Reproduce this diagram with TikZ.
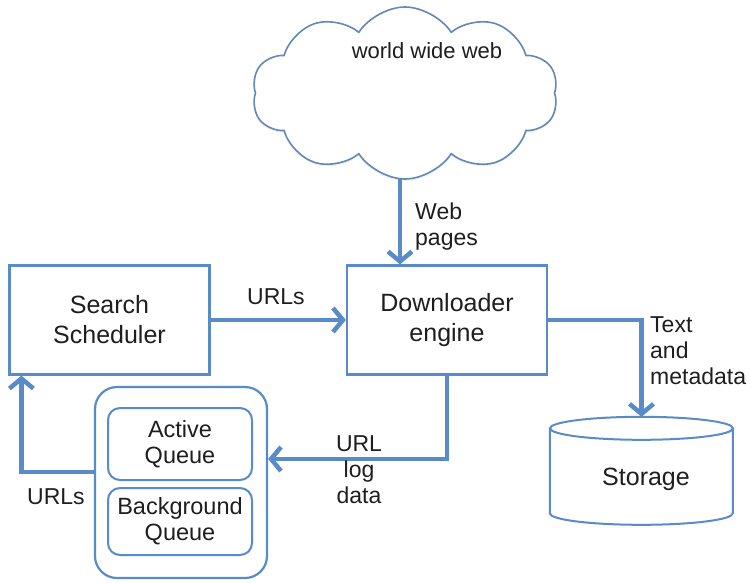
\documentclass[tikz,border=0pt]{standalone}
\usepackage{fontspec}
\setmainfont{Liberation Sans}
\usetikzlibrary{arrows.meta,shapes.symbols,positioning,shadows}
\definecolor{lblue}{RGB}{88,139,200}
\definecolor{txt}{RGB}{30,30,30}
\tikzset{
  box/.style={draw=lblue, line width=2.2pt, fill=white, minimum width=200pt, minimum height=109pt, align=center, text=txt, font=\fontsize{25}{30}\selectfont},
  qouter/.style={draw=lblue, line width=2.2pt, rounded corners=22pt, minimum width=172pt, minimum height=191pt},
  qinner/.style={draw=lblue, line width=2pt, rounded corners=12pt, minimum width=144pt, align=center, text=txt, font=\fontsize{23.5}{26}\selectfont},
  arr/.style={draw=lblue, line width=4.5pt, -{Straight Barb[length=10pt,width=24pt,line width=4.5pt]}},
  lbl/.style={text=txt, font=\fontsize{23}{26}\selectfont, inner sep=0pt},
}
\begin{document}
\begin{tikzpicture}[x=1pt,y=-1pt]
\useasboundingbox (0,0) rectangle (751,582);
% cloud position helper
\coordinate (cc) at (405,93);
% boxes
\node[box] (sched) at (109.5,320) {Search\\Scheduler};
\node[box] (dl) at (447,320) {Downloader\\engine};
% arrow from cloud (drawn under the cloud)
\draw[arr] (400,100) coordinate (cs) -- (cs |- dl.north);
% cloud
\node[cloud, cloud puffs=10, cloud puff arc=115, aspect=1.9, draw=lblue!75!gray, fill=white, line width=1.6pt, minimum width=306pt, minimum height=172pt, inner sep=0pt, drop shadow={opacity=0.12, shadow xshift=0pt, shadow yshift=-2pt}] (cloud) at (cc) {};
\node[lbl, font=\fontsize{22}{26}\selectfont] (www) at (427,51) {world wide web};
% queues
\node[qouter] (qc) at (181,482.5) {};
\node[qinner, minimum height=72pt] (aq) at (180,444) {Active\\Queue};
\node[qinner, minimum height=67pt] (bq) at (180,521.5) {Background\\Queue};
% storage (cylinder)
\node[minimum width=183pt, minimum height=96pt, inner sep=0pt] (st) at (641.5,465) {};
\draw[lblue, line width=2pt, fill=white]
  (st.north west) ++(0,11.5)
  -- ++(0,85)
  arc[start angle=180, end angle=360, x radius=91.5pt, y radius=11.5pt]
  -- ++(0,-85);
\draw[lblue, line width=2pt] ([yshift=-11.5pt]st.north) ellipse[x radius=91.5pt, y radius=11.5pt];
\node[text=txt, font=\fontsize{25}{30}\selectfont] (stl) at (646,479) {Storage};
% connectors
\draw[arr] (sched.east) -- (dl.west);
\draw[arr] (dl.east) -| (st.north);
\draw[arr] (dl.south) |- ([yshift=23.5pt]qc.east);
\draw[arr] ([yshift=10.5pt]qc.west) -| ([xshift=13pt]sched.south west);
% labels
\node[lbl, align=left, anchor=north west] (wp) at (415,203) {Web\\pages};
\node[lbl] (u1) at (276,297) {URLs};
\node[lbl, align=left, anchor=north west] (tm) at (650,316) {Text\\and\\metadata};
\node[lbl, align=center, anchor=north] (ul) at (359,435) {URL\\log\\data};
\node[lbl] (u2) at (56,497) {URLs};
\end{tikzpicture}
\end{document}
